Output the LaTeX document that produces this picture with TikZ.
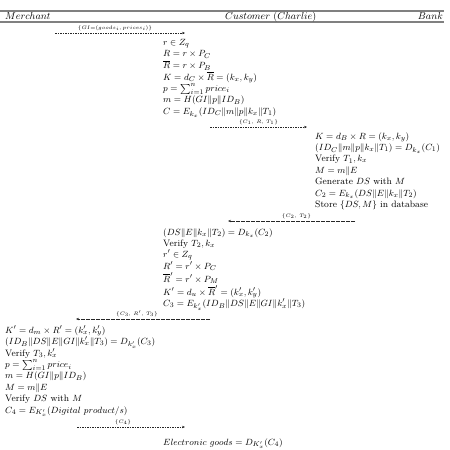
\documentclass[tikz,border=0pt]{standalone}
\usetikzlibrary{arrows.meta}
\newcommand\blk[1]{\begin{tabular}[t]{@{}l@{}}#1\end{tabular}}
\begin{document}
\begin{tikzpicture}[x=1pt,y=-1pt,
  txt/.style={anchor=base west, inner sep=0pt, font=\fontsize{9.3}{11.4}\selectfont},
  hdr/.style={inner sep=0pt, font=\fontsize{10}{12}\selectfont},
  rule/.style={draw=black!50, line width=1.3pt},
  msg/.style={draw=black!85, line width=0.4pt, dash pattern=on 1.6pt off 0.9pt, -{Stealth[length=3pt,width=2.4pt]}},
  lbl/.style={above, inner sep=2pt, font=\fontsize{5.5}{6}\selectfont}]
\useasboundingbox (0,0) rectangle (450,450);
% header
\coordinate (tl) at (0,11); \coordinate (tr) at (444,11);
\coordinate (bl) at (0,22); \coordinate (br) at (444,22);
\draw[rule] (tl) -- (tr);
\draw[rule] (bl) -- (br);
\node[hdr, anchor=base west] (hm) at (5,19.5) {$Merchant$};
\node[hdr, anchor=base west] (hc) at (225,19.5) {$Customer\ (Charlie)$};
\node[hdr, anchor=base east] (hb) at (443,19.5) {$Bank$};
% message 1
\coordinate (a1s) at (55,33); \coordinate (a1e) at (185,33);
\draw[msg] (a1s) -- node[lbl, xshift=-5pt] (l1) {$\{GI{=}(goods_i,prices_i)\}$} (a1e);
% customer block 1
\node[txt] (c1) at (163,45.5) {\blk{%
$r \in Z_q$\\
$R = r \times P_C$\\
$\overline{R} = r \times P_B$\\
$K = d_C \times \overline{R} = (k_x, k_y)$\\
$p = \sum_{i=1}^{n} price_i$\\
$m = H(GI\|p\|ID_B)$\\
$C = E_{k_x}(ID_C\|m\|p\|k_x\|T_1)$}};
% message 2
\coordinate (a2s) at (210,127); \coordinate (a2e) at (307,127);
\draw[msg] (a2s) -- node[lbl] (l2) {$\{C_1,\,R,\,T_1\}$} (a2e);
% bank block
\node[txt] (b1) at (315,139) {\blk{%
$K = d_B \times R = (k_x, k_y)$\\
$(ID_C\|m\|p\|k_x\|T_1) = D_{k_x}(C_1)$\\
Verify $T_1, k_x$\\
$M = m\|E$\\
Generate $DS$ with $M$\\
$C_2 = E_{k_x}(DS\|E\|k_x\|T_2)$\\
Store $\{DS, M\}$ in database}};
% message 3
\coordinate (a3s) at (355,221); \coordinate (a3e) at (228,221);
\draw[msg] (a3s) -- node[lbl, xshift=5pt] (l3) {$\{C_2,\,T_2\}$} (a3e);
% customer block 2
\node[txt] (c2) at (163,235) {\blk{%
$(DS\|E\|k_x\|T_2) = D_{k_x}(C_2)$\\
Verify $T_2, k_x$\\
$r' \in Z_q$\\
$R' = r' \times P_C$\\
$\overline{R}' = r' \times P_M$\\
$K' = d_u \times \overline{R}' = (k'_x, k'_y)$\\
$C_3 = E_{k'_x}(ID_B\|DS\|E\|GI\|k'_x\|T_3)$}};
% message 4
\coordinate (a4s) at (210,319); \coordinate (a4e) at (76,319);
\draw[msg] (a4s) -- node[lbl, xshift=-6pt] (l4) {$\{C_3,\,R',\,T_3\}$} (a4e);
% merchant block
\node[txt] (m1) at (5,333) {\blk{%
$K' = d_m \times R' = (k'_x, k'_y)$\\
$(ID_B\|DS\|E\|GI\|k'_x\|T_3) = D_{k'_x}(C_3)$\\
Verify $T_3, k'_x$\\
$p = \sum_{i=1}^{n} price_i$\\
$m = H(GI\|p\|ID_B)$\\
$M = m\|E$\\
Verify $DS$ with $M$\\
$C_4 = E_{K'_x}(Digital\ product/s)$}};
% message 5
\coordinate (a5s) at (77,427); \coordinate (a5e) at (185,427);
\draw[msg] (a5s) -- node[lbl, xshift=-8pt] (l5) {$\{C_4\}$} (a5e);
\node[txt] (eg) at (163,445) {$Electronic\ goods = D_{K'_x}(C_4)$};
\end{tikzpicture}
\end{document}
